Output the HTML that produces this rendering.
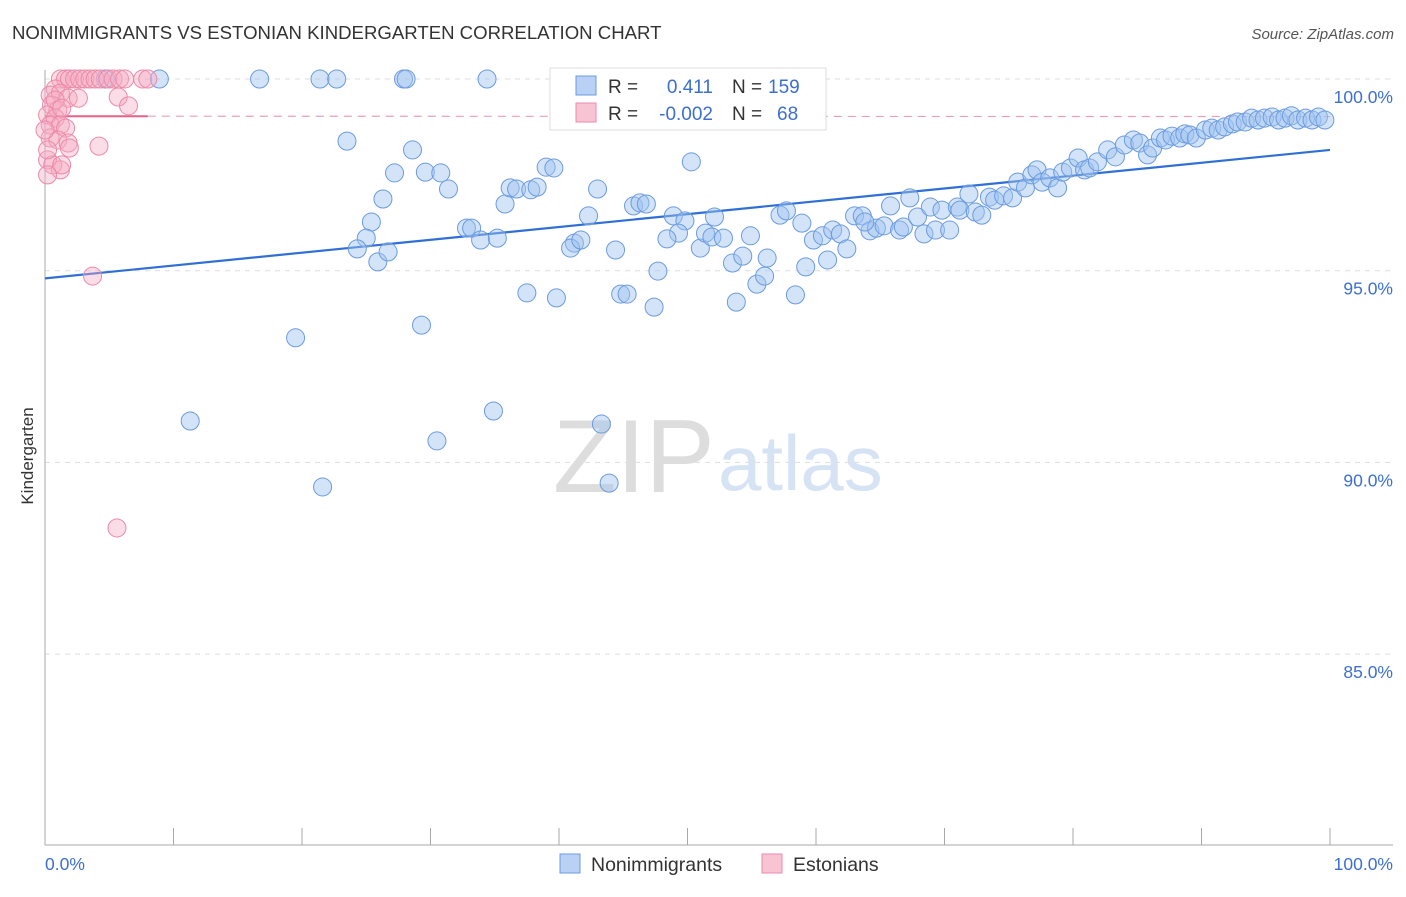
<!DOCTYPE html>
<html><head><meta charset="utf-8"><style>
body{margin:0;background:#fff;font-family:"Liberation Sans",sans-serif;}
svg text{font-family:"Liberation Sans",sans-serif;}
</style></head><body>
<svg id="chart" width="1406" height="892" xmlns="http://www.w3.org/2000/svg">
<text x="12" y="39" font-size="18.6" fill="#333">NONIMMIGRANTS VS ESTONIAN KINDERGARTEN CORRELATION CHART</text>
<text x="1394" y="39" font-size="15" fill="#555" text-anchor="end" font-style="italic">Source: ZipAtlas.com</text>
<g>
<text x="553" y="492" font-size="104" fill="#ddd" font-family="Liberation Serif,serif">ZIP</text>
<text x="718" y="490" font-size="78" fill="#d5e3f5">atlas</text>
</g>
<g id="grid"></g>
<g id="axes"></g>
<g id="trends"></g>
<g id="points"></g>
<g>
<rect x="550" y="68" width="276" height="62" fill="#fff" stroke="#ddd"/>
<rect x="576" y="76" width="20" height="19" fill="#b8d1f5" stroke="#6b9be0"/>
<rect x="576" y="103" width="20" height="19" fill="#f8c4d3" stroke="#ec8aa8"/>
<text x="608" y="93" font-size="19" fill="#333">R =</text>
<text x="713" y="93" font-size="19" fill="#3c6fd0" text-anchor="end">0.411</text>
<text x="732" y="93" font-size="19" fill="#333">N =</text>
<text x="768" y="93" font-size="19" fill="#3c6fd0">159</text>
<text x="608" y="120" font-size="19" fill="#333">R =</text>
<text x="713" y="120" font-size="19" fill="#3c6fd0" text-anchor="end">-0.002</text>
<text x="732" y="120" font-size="19" fill="#333">N =</text>
<text x="777" y="120" font-size="19" fill="#3c6fd0">68</text>
</g>
<text transform="translate(33,456) rotate(-90)" font-size="17" fill="#333" text-anchor="middle">Kindergarten</text>
<g>
<rect x="560" y="854" width="20" height="19" fill="#b8d1f5" stroke="#6b9be0"/>
<text x="591" y="871" font-size="19.5" fill="#333">Nonimmigrants</text>
<rect x="762" y="854" width="20" height="19" fill="#f8c4d3" stroke="#ec8aa8"/>
<text x="793" y="871" font-size="19.5" fill="#333">Estonians</text>
</g>
</svg>
<script>
const yTicks=[100,95,90,85];
const yTickLabels=["100.0%","95.0%","90.0%","85.0%"];
const xTickLabels=["0.0%","100.0%"];
const blueX=[8.9,16.7,21.4,22.7,27.9,28.1,34.4,4.7,23.5,28.6,27.2,26.3,25.4,25.0,24.3,25.9,26.7,29.6,30.8,31.4,32.8,33.2,33.9,35.2,35.8,36.2,36.7,37.8,38.3,39.0,39.6,42.3,43.0,41.2,40.9,41.7,44.4,45.8,46.3,46.8,48.9,49.8,49.3,48.4,50.3,51.0,51.4,52.1,51.9,52.8,53.5,54.9,54.3,56.2,55.4,56.0,57.2,57.7,58.9,59.2,59.8,60.5,61.3,61.9,62.4,60.9,63.0,63.6,64.2,64.7,63.8,65.3,65.8,66.5,66.8,67.3,67.9,68.4,68.9,69.3,69.8,70.4,71.0,71.2,71.9,72.4,72.9,73.5,73.9,74.6,75.3,75.7,76.3,76.8,77.2,77.6,78.2,78.8,79.2,79.8,80.4,80.9,81.3,81.9,82.7,83.3,84.0,84.7,85.2,85.8,86.2,86.8,87.2,87.7,88.3,88.7,89.1,89.6,90.3,90.8,91.3,91.8,92.4,92.8,93.4,93.9,94.4,94.9,95.5,96.0,96.5,97.0,97.5,98.1,98.6,99.1,99.6,11.3,19.5,21.6,29.3,30.5,34.9,37.5,39.8,43.3,43.9,44.8,45.3,47.4,47.7,53.8,58.4,40.1];
const blueY=[100,100,100,100,100,100,100,100,98.38,98.15,97.55,96.87,96.27,95.85,95.57,95.23,95.49,97.57,97.55,97.13,96.11,96.11,95.80,95.85,96.74,97.16,97.13,97.11,97.18,97.70,97.68,96.43,97.13,95.72,95.59,95.80,95.54,96.69,96.77,96.74,96.43,96.30,95.98,95.83,97.84,95.59,95.98,96.40,95.88,95.85,95.20,95.91,95.38,95.33,94.65,94.86,96.45,96.56,96.24,95.10,95.80,95.91,96.06,95.96,95.57,95.28,96.43,96.43,96.04,96.11,96.27,96.17,96.69,96.06,96.14,96.90,96.40,95.96,96.66,96.06,96.58,96.06,96.66,96.58,97.00,96.53,96.45,96.92,96.84,96.95,96.90,97.31,97.16,97.50,97.63,97.31,97.42,97.16,97.57,97.68,97.94,97.63,97.68,97.84,98.15,97.97,98.28,98.41,98.33,98.02,98.20,98.46,98.41,98.51,98.46,98.57,98.54,98.46,98.67,98.72,98.67,98.75,98.83,98.88,98.88,98.98,98.93,98.98,99.01,98.93,98.98,99.04,98.93,98.98,98.93,99.01,98.93,91.08,93.25,89.36,93.58,90.56,91.34,94.42,94.29,91.00,89.46,94.39,94.39,94.05,94.99,94.18,94.37,99.14];
const pinkX=[1.2,1.6,1.9,2.3,2.7,3.1,3.5,3.9,4.3,4.9,5.3,5.8,6.2,7.6,8.0,0.8,0.4,1.2,1.8,2.6,5.7,6.5,0.5,1.0,0.2,0.8,0.4,1.2,1.6,0.4,1.0,1.8,1.9,4.2,0.2,0.6,1.2,1.3,0.2,3.7,5.6,0.8,1.3,0.0,0.2];
const pinkY=[100,100,100,100,100,100,100,100,100,100,100,100,100,100,100,99.74,99.58,99.63,99.50,99.50,99.53,99.30,99.32,99.19,99.06,98.98,98.80,98.80,98.72,98.46,98.41,98.33,98.20,98.25,97.89,97.76,97.63,97.76,97.50,94.86,88.29,99.45,99.24,98.67,98.15];
const blueTrendX=[0,100];
const blueTrendY=[94.8,98.15];
const pinkTrendX=[0,8,100];
const pinkTrendY=[99.03,99.03,99.02];

const NS="http://www.w3.org/2000/svg";
const X0=45,X1=1330,Y100=79,PXPER=38.34;
function sx(v){return X0+(X1-X0)*v/100;}
function sy(v){return Y100+(100-v)*PXPER;}
function mk(tag,attrs,parent){const e=document.createElementNS(NS,tag);for(const k in attrs)e.setAttribute(k,attrs[k]);parent.appendChild(e);return e;}
const grid=document.getElementById('grid'),axes=document.getElementById('axes'),trends=document.getElementById('trends'),pts=document.getElementById('points');
yTicks.forEach((t,i)=>{
 const l=mk('line',{x1:45,x2:1393,y1:sy(t),y2:sy(t),stroke:'#ddd','stroke-dasharray':'5,5'},grid);
 
 
 const tx=mk('text',{x:1393,y:sy(t)+24,'font-size':17.5,fill:'#3c6fd0','text-anchor':'end'},grid);
 tx.textContent=yTickLabels[i];
 
 
});
const ya=mk('line',{x1:45,x2:45,y1:70,y2:845,stroke:'#aaa'},axes);


const xa=mk('line',{x1:45,x2:1393,y1:845,y2:845,stroke:'#aaa'},axes);


for(let i=0;i<=10;i++){
 const t=mk('line',{x1:sx(i*10),x2:sx(i*10),y1:828,y2:845,stroke:'#aaa'},axes);
 
 
}
const xl0=mk('text',{x:45,y:870,'font-size':17.5,fill:'#3c6fd0'},axes);xl0.textContent=xTickLabels[0];


const xl1=mk('text',{x:1393,y:870,'font-size':17.5,fill:'#3c6fd0','text-anchor':'end'},axes);xl1.textContent=xTickLabels[1];



blueX.forEach((x,i)=>{
 const c=mk('circle',{cx:sx(x),cy:sy(blueY[i]),r:9,fill:'rgba(160,195,240,0.45)',stroke:'#6b9be0','stroke-width':1},pts);
 
 
});
pinkX.forEach((x,i)=>{
 const c=mk('circle',{cx:sx(x),cy:sy(pinkY[i]),r:9,fill:'rgba(245,170,195,0.4)',stroke:'#ec8aa8','stroke-width':1},pts);
 
 
});
const bt=mk('line',{x1:sx(blueTrendX[0]),y1:sy(blueTrendY[0]),x2:sx(blueTrendX[1]),y2:sy(blueTrendY[1]),stroke:'#2f6fd6','stroke-width':2.2},trends);


const pt1=mk('line',{x1:sx(pinkTrendX[0]),y1:sy(pinkTrendY[0]),x2:sx(pinkTrendX[1]),y2:sy(pinkTrendY[1]),stroke:'#e8608a','stroke-width':2},trends);


const pt2=mk('line',{x1:sx(pinkTrendX[1]),y1:sy(pinkTrendY[1]),x2:sx(pinkTrendX[2]),y2:sy(pinkTrendY[2]),stroke:'#e8a0b8','stroke-width':1.2,'stroke-dasharray':'8,6'},trends);


</script>
</body></html>
